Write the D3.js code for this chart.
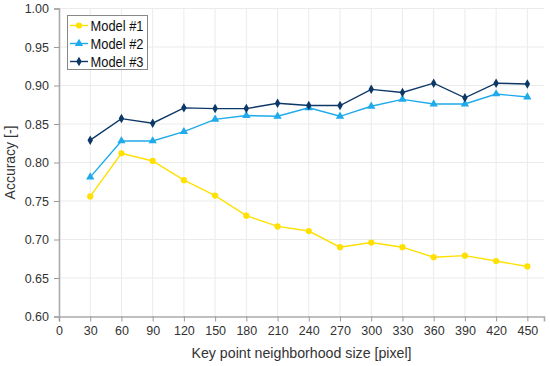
<!DOCTYPE html>
<html><head><meta charset="utf-8">
<script src="https://cdn.jsdelivr.net/npm/d3@7"></script>
<style>body{margin:0;background:#fff}svg{display:block;font-family:"Liberation Sans",Arial,sans-serif}</style>
</head><body><svg id="c" width="550" height="366"></svg>
<script>
const sizes = [30,60,90,120,150,180,210,240,270,300,330,360,390,420,450];
const model1 = [0.756,0.812,0.802,0.777,0.757,0.731,0.717,0.711,0.690,0.696,0.690,0.677,0.679,0.672,0.665];
const model2 = [0.781,0.828,0.828,0.840,0.856,0.861,0.860,0.871,0.860,0.873,0.882,0.876,0.876,0.889,0.885];
const model3 = [0.829,0.857,0.851,0.871,0.870,0.870,0.877,0.874,0.874,0.895,0.891,0.903,0.884,0.903,0.902];
const xTicks = [0,30,60,90,120,150,180,210,240,270,300,330,360,390,420,450];
const yTicks = [0.60,0.65,0.70,0.75,0.80,0.85,0.90,0.95,1.00];
const seriesNames = ["Model #1","Model #2","Model #3"];
const colors = ["#ffe000","#1faaeb","#0c3867"];
const symbols = [d3.symbolCircle, d3.symbolTriangle, d3.symbolDiamond];

const svg = d3.select("#c");
const L=59, R=544, T=8.5, B=316.5;
const x = d3.scaleLinear().domain([0,466]).range([L,R]);
const y = d3.scaleLinear().domain([0.6,1.0]).range([B,T]);

// grid
svg.append("g").selectAll("line").data(xTicks.slice(1)).join("line")
  .attr("x1",d=>x(d)).attr("x2",d=>x(d)).attr("y1",T).attr("y2",B)
  .attr("stroke","#ebebeb").attr("stroke-width",1);
svg.append("g").selectAll("line").data(yTicks.slice(1)).join("line")
  .attr("x1",L).attr("x2",R).attr("y1",d=>y(d)).attr("y2",d=>y(d))
  .attr("stroke","#ebebeb").attr("stroke-width",1);

// axes
const xa = svg.append("g").attr("transform",`translate(0,${B})`)
  .call(d3.axisBottom(x).tickValues(xTicks).tickSize(5).tickPadding(5).tickFormat(d3.format("d")));
const ya = svg.append("g").attr("transform",`translate(${L},0)`)
  .call(d3.axisLeft(y).tickValues(yTicks).tickSize(5).tickPadding(5).tickFormat(d3.format(".2f")));
[xa,ya].forEach(a=>{
  a.select(".domain").attr("stroke","#aaaaaa").attr("stroke-width",1.6);
  a.selectAll(".tick line").attr("stroke","#999");
  a.selectAll(".tick text").attr("fill","#333").style("font-size","12.5px").style("font-family","Liberation Sans, Arial, sans-serif");
});

svg.append("text").attr("x",(L+R)/2).attr("y",358).attr("text-anchor","middle")
  .attr("fill","#333").style("font-size","14.2px").text("Key point neighborhood size [pixel]");
svg.append("text").attr("transform",`translate(15,${(T+B)/2}) rotate(-90)`).attr("text-anchor","middle")
  .attr("fill","#333").style("font-size","14px").text("Accuracy [-]");

// series
const all = [model1,model2,model3];
const line = d3.line().x((d,i)=>x(sizes[i])).y(d=>y(d));
all.forEach((s,k)=>{
  svg.append("path").datum(s).attr("d",line).attr("fill","none")
    .attr("stroke",colors[k]).attr("stroke-width",1.4);
  svg.append("g").selectAll("path").data(s).join("path")
    .attr("transform",(d,i)=>`translate(${x(sizes[i])},${y(d)})`)
    .attr("d",d3.symbol().type(symbols[k]).size(k===2?26:30))
    .attr("fill",colors[k]);
});

// legend
const lg = svg.append("g");
lg.append("rect").attr("x",67.5).attr("y",15.5).attr("width",80).attr("height",54)
  .attr("fill","#fff").attr("stroke","#888").attr("stroke-width",1);
seriesNames.forEach((n,k)=>{
  const yy = 25.5+k*18;
  lg.append("line").attr("x1",70).attr("x2",88).attr("y1",yy).attr("y2",yy)
    .attr("stroke",colors[k]).attr("stroke-width",1.4);
  lg.append("path").attr("transform",`translate(79,${yy})`)
    .attr("d",d3.symbol().type(symbols[k]).size(k===2?26:30)).attr("fill",colors[k]);
  lg.append("text").attr("x",90.5).attr("y",yy+5.5).attr("fill","#111")
    .style("font-size","15px").attr("textLength",53).attr("lengthAdjust","spacingAndGlyphs").text(n);
});
</script></body></html>
